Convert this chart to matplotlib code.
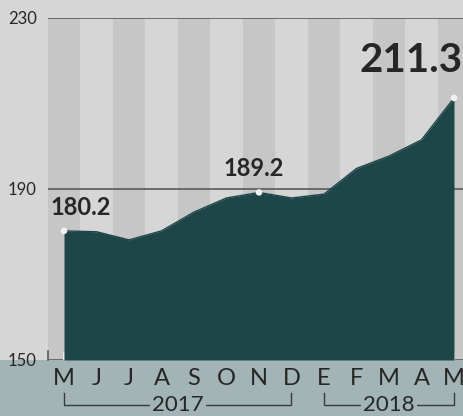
import matplotlib.pyplot as plt
from matplotlib.patches import Rectangle

# monthly index values, May 2017 - May 2018
months = ["M", "J", "J", "A", "S", "O", "N", "D", "E", "F", "M", "A", "M"]
values = [180.2, 180.0, 178.1, 180.2, 184.6, 187.9, 189.2, 187.9, 188.8, 194.8, 197.7, 201.5, 211.3]
y_ticks = [150, 190, 230]
years = ["2017", "2018"]
year_spans = [(0, 7), (8, 12)]
highlights = [0, 6, 12]

bg = "#d6d6d6"
stripe = "#c6c6c6"
band = "#a2b4b6"
fill = "#1e4648"
grid = "#5a5a5a"
text = "#262626"

plt.rcParams["font.family"] = ["Lato", "DejaVu Sans"]

W, H = 464, 416
fig = plt.figure(figsize=(W / 100, H / 100), dpi=100, facecolor=bg)

# bottom band behind the month labels
fig.patches.append(Rectangle((0, 0), 1, 56 / H, transform=fig.transFigure,
                             facecolor=band, edgecolor="none", zorder=0))

left, right, top, bottom = 48, W, 18, 360
ax = fig.add_axes([left / W, 1 - bottom / H, (right - left) / W, (bottom - top) / H])
ax.set_zorder(1)
ax.set_facecolor(bg)

step = 32.5
x0 = -(64 - left) / step
ax.set_xlim(x0, x0 + (right - left) / step)
ax.set_ylim(150, 230)

# alternating column stripes
for i in range(0, len(months), 2):
    ax.axvspan(i - 0.5, i + 0.5, color=stripe, lw=0, zorder=0)

for v in y_ticks:
    ax.axhline(v, color=grid, lw=1.2, zorder=1)
ax.plot([x0, x0], [150, 152], color=grid, lw=1.2, zorder=1, clip_on=False)

x = list(range(len(months)))
ax.fill_between(x, 150, values, color=fill, lw=0, zorder=2)
ax.plot(x, values, color=fill, lw=1, zorder=2)

ax.scatter([x[i] for i in highlights], [values[i] for i in highlights],
           s=22, color="#f2f2f2", edgecolor="none", zorder=4, clip_on=False)

ax.annotate(f"{values[0]:.1f}", (x[0], values[0]), xytext=(17, 23),
            textcoords="offset pixels", ha="center", va="center",
            fontsize=17, fontweight="bold", color=text, zorder=5)
ax.annotate(f"{values[6]:.1f}", (x[6], values[6]), xytext=(-5, 24),
            textcoords="offset pixels", ha="center", va="center",
            fontsize=17, fontweight="bold", color=text, zorder=5)
ax.annotate(f"{values[12]:.1f}", (x[12], values[12]), xytext=(9, 37),
            textcoords="offset pixels", ha="right", va="center",
            fontsize=29, fontweight="bold", color=text, zorder=5,
            annotation_clip=False)

ax.set_yticks(y_ticks)
ax.set_yticklabels([str(v) for v in y_ticks], fontsize=12, color=text)
ax.tick_params(axis="y", length=0, pad=8)

ax.set_xticks(x)
ax.set_xticklabels(months, fontsize=17, color=text)
ax.tick_params(axis="x", direction="in", length=6, width=1.5, color="#e8e8e8",
               pad=6)
for t in ax.xaxis.get_major_ticks():
    t.tick1line.set_zorder(3)

for s in ax.spines.values():
    s.set_visible(False)

# year brackets under the month letters
y_hi, y_lo = -33 / (bottom - top), -45 / (bottom - top)
tr = ax.get_xaxis_transform()
for label, (a, b) in zip(years, year_spans):
    ax.plot([a, a, b, b], [y_hi, y_lo, y_lo, y_hi], color="#3a3a3a", lw=1,
            transform=tr, clip_on=False)
    ax.text((a + b) / 2, y_lo, label, transform=tr, ha="center", va="center",
            fontsize=16, color=text,
            bbox=dict(boxstyle="square,pad=0.1", facecolor=band, edgecolor="none"))

fig.savefig("out.png", dpi=100, facecolor=bg)
